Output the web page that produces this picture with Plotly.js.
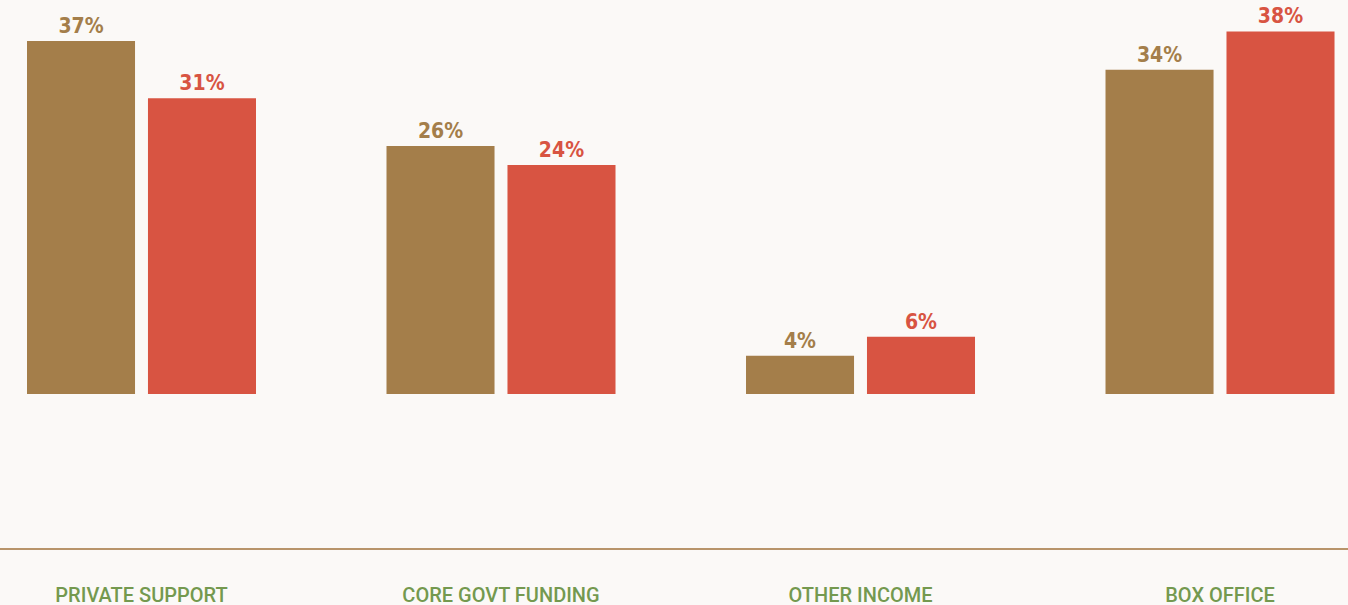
<!DOCTYPE html>
<html>
<head>
<meta charset="utf-8">
<script src="https://cdn.plot.ly/plotly-3.0.1.min.js"></script>
<style>
html,body{margin:0;padding:0;background:#fbf9f7;}
#chart{width:1348px;height:605px;}
</style>
</head>
<body>
<div id="chart"></div>
<script>
const categories = ["PRIVATE SUPPORT", "CORE GOVT FUNDING", "OTHER INCOME", "BOX OFFICE"];
const seriesA = [37, 26, 4, 34];
const seriesB = [31, 24, 6, 38];
const labelsA = seriesA.map(v => v + "%");
const labelsB = seriesB.map(v => v + "%");

const brown = "#a47e4a";
const red = "#d85442";

const textFont = (c) => ({family: "DejaVu Sans Condensed, DejaVu Sans", size: 21, color: c, weight: "bold"});

const traces = [
  {
    type: "bar", x: categories, y: seriesA, name: "A",
    marker: {color: brown},
    text: labelsA, textposition: "outside", cliponaxis: false,
    textfont: textFont(brown),
    hoverinfo: "none"
  },
  {
    type: "bar", x: categories, y: seriesB, name: "B",
    marker: {color: red},
    text: labelsB, textposition: "outside", cliponaxis: false,
    textfont: textFont(red),
    hoverinfo: "none"
  }
];

const layout = {
  width: 1348, height: 605,
  margin: {l: 0, r: 0, t: 0, b: 57, pad: 0},
  paper_bgcolor: "#fbf9f7",
  plot_bgcolor: "#fbf9f7",
  showlegend: false,
  barmode: "group",
  bargap: 0.327,
  bargroupgap: 0.107,
  xaxis: {
    type: "category",
    range: [-0.3936, 3.356],
    showgrid: false, zeroline: false,
    showline: true, linecolor: "#b8946a", linewidth: 1.5,
    ticks: "",
    ticklabelstandoff: 28,
    tickfont: {family: "Roboto", size: 20, color: "#74994f", weight: 500}
  },
  yaxis: {
    range: [-16.14, 41.3],
    visible: false, showgrid: false, zeroline: false
  }
};

Plotly.newPlot("chart", traces, layout, {displayModeBar: false, staticPlot: true});
</script>
</body>
</html>
